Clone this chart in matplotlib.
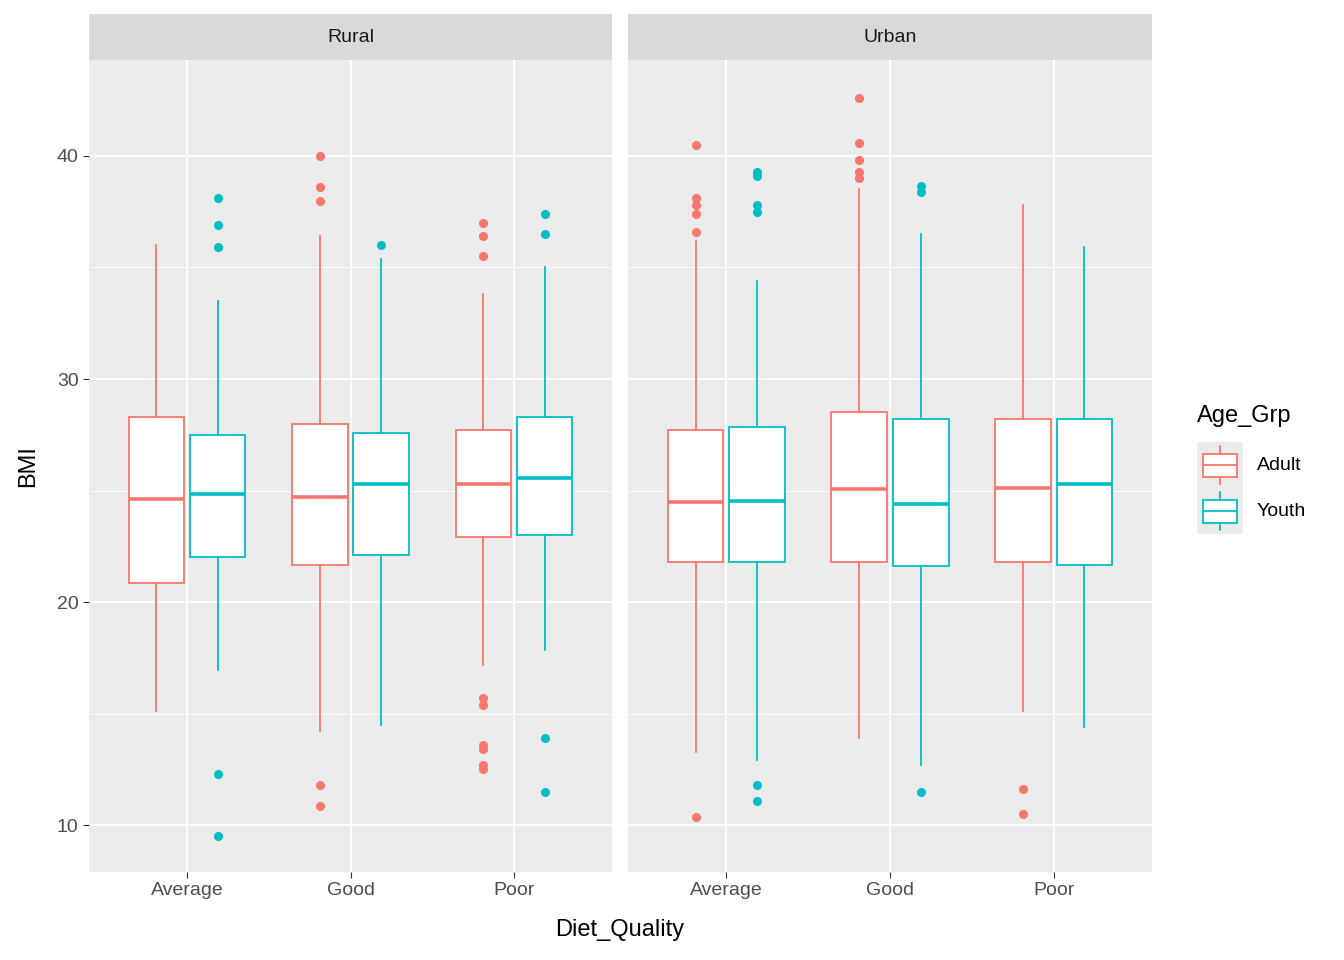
import matplotlib
matplotlib.use("Agg")
import matplotlib.pyplot as plt
from matplotlib.patches import Rectangle
from matplotlib.lines import Line2D

plt.rcParams['font.family'] = ['Liberation Sans', 'DejaVu Sans']

facets = ["Rural", "Urban"]
diets = ["Average", "Good", "Poor"]
groups = ["Adult", "Youth"]
colors = {"Adult": "#F8766D", "Youth": "#00BFC4"}

# [whislo, q1, med, q3, whishi] per facet -> group -> diet
box_stats = {
    "Rural": {
        "Adult": [[15.1, 20.85, 24.6, 28.3, 36.0], [14.2, 21.65, 24.7, 28.0, 36.4], [17.2, 22.9, 25.3, 27.7, 33.8]],
        "Youth": [[16.95, 22.0, 24.85, 27.5, 33.5], [14.5, 22.1, 25.3, 27.6, 35.4], [17.85, 23.0, 25.55, 28.3, 35.0]],
    },
    "Urban": {
        "Adult": [[13.3, 21.8, 24.5, 27.7, 36.2], [13.9, 21.8, 25.05, 28.5, 38.5], [15.1, 21.8, 25.1, 28.2, 37.8]],
        "Youth": [[12.9, 21.8, 24.55, 27.85, 34.4], [12.7, 21.6, 24.4, 28.2, 36.5], [14.4, 21.65, 25.3, 28.2, 35.9]],
    },
}
outliers = {
    "Rural": {
        "Adult": [[], [40.0, 38.6, 38.0, 11.8, 10.85], [37.0, 36.4, 35.5, 15.7, 15.4, 13.6, 13.4, 12.7, 12.5]],
        "Youth": [[38.1, 36.9, 35.9, 12.3, 9.5], [36.0], [37.4, 36.5, 13.9, 11.5]],
    },
    "Urban": {
        "Adult": [[40.5, 38.1, 37.8, 37.4, 36.6, 10.35], [42.6, 40.6, 39.8, 39.3, 39.0], [11.6, 10.5]],
        "Youth": [[39.3, 39.1, 37.8, 37.5, 11.8, 11.1], [38.65, 38.4, 11.5], []],
    },
}

W, H = 1344, 960
fig = plt.figure(figsize=(W / 100, H / 100), dpi=100)
grey = "#4D4D4D"

panels = [(89, 612), (628, 1152)]
top, bot, strip_top = 60, 872, 14
for (x0, x1), facet in zip(panels, facets):
    ax = fig.add_axes([x0 / W, 1 - bot / H, (x1 - x0) / W, (bot - top) / H])
    ax.set_facecolor("#EBEBEB")
    for s in ax.spines.values():
        s.set_visible(False)
    for gi, g in enumerate(groups):
        offset = -0.1875 if gi == 0 else 0.1875
        stats = []
        for di in range(3):
            lo, q1, med, q3, hi = box_stats[facet][g][di]
            stats.append(dict(whislo=lo, q1=q1, med=med, q3=q3, whishi=hi,
                              fliers=outliers[facet][g][di]))
        c = colors[g]
        ax.bxp(stats, positions=[d + 1 + offset for d in range(3)], widths=0.34,
               showcaps=False, patch_artist=True, manage_ticks=False,
               boxprops=dict(facecolor="white", edgecolor=c, lw=1.3),
               whiskerprops=dict(color=c, lw=1.3),
               medianprops=dict(color=c, lw=2.6),
               flierprops=dict(marker="o", markerfacecolor=c, markeredgecolor=c, markersize=5.5))
    ax.set_xlim(0.4, 3.6)
    ax.set_ylim(7.9, 44.3)
    ax.set_yticks([10, 20, 30, 40])
    ax.set_yticks([15, 25, 35], minor=True)
    ax.set_xticks([1, 2, 3])
    ax.set_xticks([], minor=True)
    ax.set_xticklabels(diets, fontsize=14, color=grey)
    ax.grid(True, which="major", color="white", lw=1.3)
    ax.grid(True, which="minor", axis="y", color="white", lw=0.6)
    ax.set_axisbelow(True)
    ax.tick_params(axis="both", which="major", color="#333333", length=4, labelsize=14, labelcolor=grey)
    ax.tick_params(axis="y", which="minor", length=0)
    if facet != "Rural":
        ax.set_yticklabels([])
        ax.tick_params(axis="y", length=0)
    sax = fig.add_axes([x0 / W, 1 - top / H, (x1 - x0) / W, (top - strip_top) / H])
    sax.set_facecolor("#D9D9D9")
    sax.set_xticks([]); sax.set_yticks([])
    for s in sax.spines.values():
        s.set_visible(False)
    sax.text(0.5, 0.5, facet, ha="center", va="center", fontsize=14, color="#1A1A1A")

fig.text(620 / W, 1 - 930 / H, "Diet_Quality", ha="center", va="center", fontsize=17)
fig.text(28 / W, 1 - 466 / H, "BMI", ha="center", va="center", rotation=90, fontsize=17)

# legend
fig.text(1197 / W, 1 - 416 / H, "Age_Grp", ha="left", va="center", fontsize=17)
lax = fig.add_axes([1197 / W, 1 - 534 / H, 46 / W, 92 / H])
lax.set_xlim(0, 1); lax.set_ylim(0, 2)
lax.axis("off")
lax.add_patch(Rectangle((0, 0), 1, 2, facecolor="#EBEBEB", edgecolor="none"))
for i, g in enumerate(groups):
    yc = 1.5 - i
    c = colors[g]
    lax.add_patch(Rectangle((0.12, yc - 0.25), 0.76, 0.5, facecolor="white", edgecolor=c, lw=1.3))
    lax.add_line(Line2D([0.12, 0.88], [yc, yc], color=c, lw=1.3))
    lax.add_line(Line2D([0.5, 0.5], [yc + 0.25, yc + 0.42], color=c, lw=1.3))
    lax.add_line(Line2D([0.5, 0.5], [yc - 0.25, yc - 0.42], color=c, lw=1.3))
    fig.text(1257 / W, 1 - (466 + 46 * i) / H, g, ha="left", va="center", fontsize=14)

fig.savefig("out.png", dpi=100)
